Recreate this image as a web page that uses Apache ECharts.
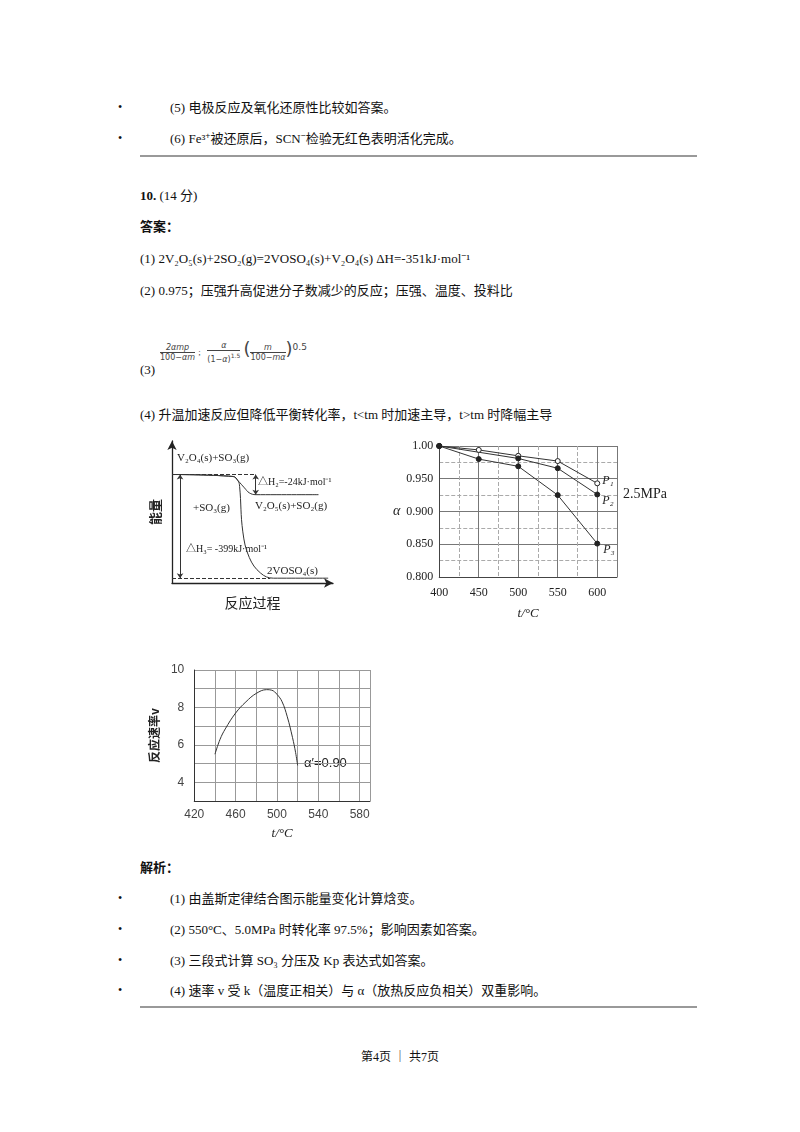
<!DOCTYPE html>
<html><head><meta charset="utf-8">
<script src="https://cdn.jsdelivr.net/npm/echarts@6/dist/echarts.min.js"></script>
<style>
body{margin:0;width:800px;height:1132px;background:#fff;position:relative;font-family:"Liberation Serif","Noto Serif","Noto Sans CJK SC",serif;font-size:13px;color:#111;}
.t{position:absolute;white-space:nowrap;line-height:16px;}
.b{position:absolute;left:118px;font-size:12px;}
.rule{position:absolute;left:140px;width:557px;height:2px;background:#999;}
.c{position:absolute;}
.fr{display:inline-block;vertical-align:middle;text-align:center;font-family:"DejaVu Sans",sans-serif;font-size:8px;color:#444;line-height:9px;}
.fr span{display:block;}
.fr .n{border-bottom:1px solid #444;padding:0 1px;}
</style></head><body>
<div class="b" style="top:100px">•</div><div class="t" style="left:170px;top:100px">(5) 电极反应及氧化还原性比较如答案。</div>
<div class="b" style="top:131px">•</div><div class="t" style="left:170px;top:131px">(6) Fe³⁺被还原后，SCN⁻检验无红色表明活化完成。</div>
<div class="rule" style="top:155px"></div>
<div class="t" style="left:140px;top:188px"><b>10.</b> (14 分)</div>
<div class="t" style="left:140px;top:219px"><b>答案：</b></div>
<div class="t" style="left:140px;top:251px">(1) 2V₂O₅(s)+2SO₂(g)=2VOSO₄(s)+V₂O₄(s) ΔH=-351kJ·mol⁻¹</div>
<div class="t" style="left:140px;top:283px">(2) 0.975；压强升高促进分子数减少的反应；压强、温度、投料比</div>
<div class="t" style="left:140px;top:362px">(3)</div>
<div class="t" style="left:160px;top:341px;line-height:12px">
<span class="fr"><span class="n"><i>2αmp</i></span><span>100−<i>αm</i></span></span>
<span style="font-size:9px;color:#444">;</span>&nbsp;
<span class="fr"><span class="n"><i>α</i></span><span>(1−<i>α</i>)<sup style="font-size:6px">1.5</sup></span></span>
<span style="font-size:18px;color:#444;font-family:'DejaVu Sans'">(</span><span class="fr"><span class="n"><i>m</i></span><span>100−<i>mα</i></span></span><span style="font-size:18px;color:#444;font-family:'DejaVu Sans'">)</span><sup style="font-size:9px;color:#444;font-family:'DejaVu Sans'">0.5</sup>
</div>
<div class="t" style="left:140px;top:407px">(4) 升温加速反应但降低平衡转化率，t&lt;tm 时加速主导，t&gt;tm 时降幅主导</div>
<div id="c1" class="c" style="left:140px;top:435px;width:230px;height:180px"></div>
<div id="c2" class="c" style="left:390px;top:435px;width:300px;height:190px"></div>
<div id="c3" class="c" style="left:140px;top:655px;width:240px;height:190px"></div>
<div class="t" style="left:140px;top:860px"><b>解析：</b></div>
<div class="b" style="top:891px">•</div><div class="t" style="left:170px;top:891px">(1) 由盖斯定律结合图示能量变化计算焓变。</div>
<div class="b" style="top:922px">•</div><div class="t" style="left:170px;top:922px">(2) 550°C、5.0MPa 时转化率 97.5%；影响因素如答案。</div>
<div class="b" style="top:953px">•</div><div class="t" style="left:170px;top:953px">(3) 三段式计算 SO₃ 分压及 Kp 表达式如答案。</div>
<div class="b" style="top:983px">•</div><div class="t" style="left:170px;top:983px">(4) 速率 v 受 k（温度正相关）与 α（放热反应负相关）双重影响。</div>
<div class="rule" style="top:1006px"></div>
<div class="t" style="left:0;width:800px;text-align:center;top:1049px;font-size:12px">第4页 ｜ 共7页</div>
<script>
// Energy diagram (abstract units)
const upperX=[0,38,41,45,48,52,91];
const upperE=[76.4,75,72,67,63.5,62.2,62.2];
const lowerX=[0,38,41,42,44,48,55,63,97];
const lowerE=[76.4,75,72,68,36,18,7,3.4,3.4];
const levelTop=76.4, levelMid=62.2, levelBot=3.4;
// alpha chart
const temps=[400,450,500,550,600];
const p1=[1.000,0.994,0.985,0.977,0.943];
const p2=[1.000,null,0.981,0.966,0.926];
const p3=[1.000,0.980,0.969,0.925,0.851];
// rate chart
const rateT=[440,445,450,460,470,480,490,495,500,505,510,515,518,520];
const rateV=[5.5,6.3,6.85,7.7,8.3,8.75,8.95,8.92,8.7,8.3,7.5,6.4,5.6,4.9];

const F='"Liberation Serif","Noto Sans CJK SC",serif';
const zip=(a,b)=>a.map((v,i)=>[v,b[i]]);

const c1=echarts.init(document.getElementById('c1'));
const ax={show:true,symbol:['none','arrow'],symbolSize:[7,9],lineStyle:{color:'#222',width:1.3}};
c1.setOption({animation:false,
grid:{left:32,top:6,width:161,height:148},
xAxis:{type:'value',min:0,max:100,axisLine:ax,axisTick:{show:false},axisLabel:{show:false},splitLine:{show:false},
 name:'反应过程',nameLocation:'middle',nameGap:13,nameTextStyle:{fontFamily:'Noto Sans CJK SC',fontSize:14,color:'#222'}},
yAxis:{type:'value',min:0,max:100,axisLine:ax,axisTick:{show:false},axisLabel:{show:false},splitLine:{show:false},
 name:'能量',nameLocation:'middle',nameGap:10,nameRotate:90,nameTextStyle:{fontFamily:'Noto Sans CJK SC',fontSize:13,fontWeight:'bold',color:'#222'}},
series:[
 {type:'line',data:zip(upperX,upperE),smooth:0.4,showSymbol:false,lineStyle:{color:'#333',width:1}},
 {type:'line',data:zip(lowerX,lowerE),smooth:0.4,showSymbol:false,lineStyle:{color:'#333',width:1},
  markLine:{silent:true,label:{show:false},data:[
   [{coord:[0,levelTop],symbol:'none',lineStyle:{type:'dashed',color:'#333',width:1}},{coord:[52,levelTop],symbol:'none'}],
   [{coord:[0,levelBot],symbol:'none',lineStyle:{type:'dashed',color:'#333',width:1}},{coord:[61,levelBot],symbol:'none'}],
   [{coord:[52,levelTop],symbol:'arrow',symbolSize:5,lineStyle:{type:'solid',color:'#333',width:1}},{coord:[52,levelMid],symbol:'arrow',symbolSize:5}],
   [{coord:[5,levelTop],symbol:'arrow',symbolSize:5,lineStyle:{type:'solid',color:'#333',width:1}},{coord:[5,levelBot],symbol:'arrow',symbolSize:5}]
  ]}}
],
graphic:[
 {type:'text',left:37,top:18,style:{text:'V₂O₄(s)+SO₃(g)',font:'11px '+F,fill:'#222'}},
 {type:'text',left:118,top:42,style:{text:'△H₂=-24kJ·mol⁻¹',font:'10px '+F,fill:'#222'}},
 {type:'text',left:115,top:66,style:{text:'V₂O₅(s)+SO₂(g)',font:'11px '+F,fill:'#222'}},
 {type:'text',left:53,top:68,style:{text:'+SO₃(g)',font:'11px '+F,fill:'#222'}},
 {type:'text',left:46,top:109,style:{text:'△H₃= -399kJ·mol⁻¹',font:'10px '+F,fill:'#222'}},
 {type:'text',left:127,top:131,style:{text:'2VOSO₄(s)',font:'11px '+F,fill:'#222'}}
]});

const c2=echarts.init(document.getElementById('c2'));
const g2={left:43,top:11,width:184,height:132};
const dash={show:true,lineStyle:{type:'dashed',color:'#aaa',width:1}};
const solid={show:true,lineStyle:{type:'solid',color:'#777',width:1}};
const lab={color:'#222',fontFamily:F,fontSize:12};
function ser(d,filled,name,off){return {type:'line',xAxisIndex:1,yAxisIndex:1,data:zip(temps,d).filter(p=>p[1]!==null),
 symbol:'circle',symbolSize:5,itemStyle:{color:filled?'#222':'#fff',borderColor:'#222',borderWidth:1},
 lineStyle:{color:'#333',width:1},
 endLabel:{show:true,formatter:name,offset:off,fontFamily:F,fontStyle:'italic',fontSize:12,color:'#222'}};}
c2.setOption({animation:false,grid:g2,
xAxis:[{type:'value',position:'bottom',min:400,max:625,interval:25,axisLabel:{show:false},axisTick:{show:false},axisLine:{show:false},splitLine:dash},
 {type:'value',position:'bottom',min:400,max:625,interval:50,axisTick:{show:false},axisLine:{show:true,lineStyle:{color:'#444'}},splitLine:solid,
  axisLabel:Object.assign({},lab,{showMaxLabel:false,margin:10}),
  name:'t/°C',nameLocation:'middle',nameGap:30,nameTextStyle:{fontFamily:F,fontSize:13,fontStyle:'italic',color:'#222'}}],
yAxis:[{type:'value',position:'left',min:0.8,max:1.0,interval:0.025,axisLabel:{show:false},axisTick:{show:false},axisLine:{show:false},splitLine:dash},
 {type:'value',position:'left',min:0.8,max:1.0,interval:0.05,axisTick:{show:false},axisLine:{show:true,lineStyle:{color:'#444'}},splitLine:solid,
  axisLabel:Object.assign({},lab,{formatter:v=>v>=1?'1.00':v.toFixed(3),margin:6}),
  name:'α',nameLocation:'middle',nameGap:36,nameRotate:0,nameTextStyle:{fontFamily:F,fontSize:14,fontStyle:'italic',color:'#222'}}],
series:[ser(p1,false,'P₁',[-3,-2]),ser(p2,true,'P₂',[-3,6]),ser(p3,true,'P₃',[-2,6])],
graphic:[{type:'text',left:233,top:52,style:{text:'2.5MPa',font:'14px '+F,fill:'#222'}}]});

const c3=echarts.init(document.getElementById('c3'));
c3.setOption({animation:false,grid:{left:39,top:15,width:191,height:132},
xAxis:{type:'value',min:420,max:590,interval:20,axisTick:{show:false},axisLine:{lineStyle:{color:'#333'}},
 splitLine:{show:true,lineStyle:{color:'#999'}},
 axisLabel:Object.assign({},lab,{formatter:v=>v%40===20?v:'',showMaxLabel:false,margin:8,color:'#444',fontFamily:'Liberation Sans'}),
 name:'t/°C',nameLocation:'middle',nameGap:26,nameTextStyle:{fontFamily:F,fontSize:13,fontStyle:'italic',color:'#222'}},
yAxis:{type:'value',min:3,max:10,interval:1,axisTick:{show:false},axisLine:{show:true,lineStyle:{color:'#333'}},
 splitLine:{show:true,lineStyle:{color:'#999'}},
 axisLabel:Object.assign({},lab,{formatter:v=>v%2===0?v:'',margin:10,color:'#444',fontFamily:'Liberation Sans'}),
 name:'反应速率v',nameLocation:'middle',nameGap:26,nameRotate:90,nameTextStyle:{fontFamily:'Noto Sans CJK SC',fontSize:12,fontWeight:'bold',color:'#222'}},
series:[{type:'line',data:zip(rateT,rateV),smooth:0.4,showSymbol:false,lineStyle:{color:'#333',width:1}}],
graphic:[{type:'text',left:164,top:102,style:{text:'α′=0.90',font:'13px "Liberation Sans"',fill:'#222',backgroundColor:'#fff'}}]});
</script></body></html>
